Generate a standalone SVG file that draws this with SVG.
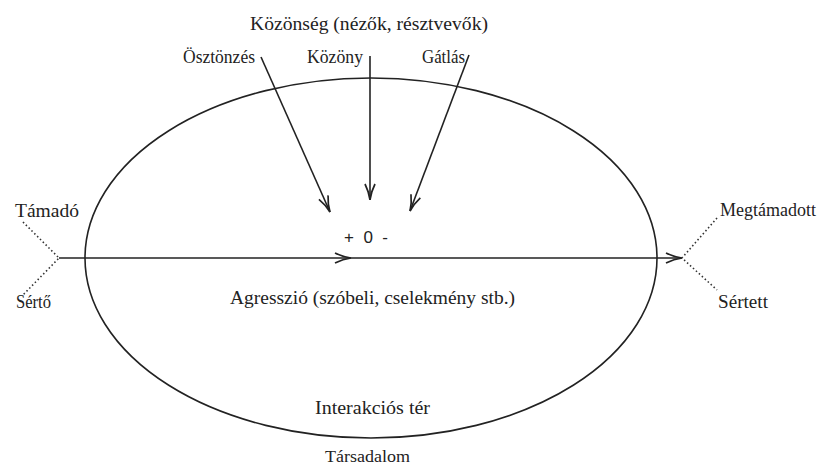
<svg xmlns="http://www.w3.org/2000/svg" width="819" height="468" viewBox="0 0 819 468">
<style>
text{font-family:"Liberation Serif","Times New Roman",serif;font-size:18.5px;fill:#222}
.ln{stroke:#222;stroke-width:1.6;fill:none}
.dot{stroke:#333;stroke-width:1.6;stroke-dasharray:1.5 2.5;fill:none}
.sans{font-family:"Liberation Sans",Arial,sans-serif;font-size:17px}
</style>
<defs>
<marker id="ah" viewBox="0 0 18 12" refX="17" refY="6" markerWidth="18" markerHeight="12" markerUnits="userSpaceOnUse" orient="auto">
<path d="M1,1 Q9,5 17,6 Q9,7 1,11" fill="none" stroke="#222" stroke-width="1.7"/>
</marker>
</defs>
<rect width="819" height="468" fill="#fff"/>
<g id="space">
<ellipse cx="371" cy="258" rx="286" ry="180" class="ln"/>
<text x="315" y="414" textLength="115" lengthAdjust="spacingAndGlyphs">Interakciós tér</text>
</g>
<g id="society"><text x="325" y="462" textLength="85" lengthAdjust="spacingAndGlyphs" style="font-size:17.5px">Társadalom</text></g>
<g id="audience"><text x="250" y="30" textLength="238" lengthAdjust="spacingAndGlyphs" style="font-size:19.5px">Közönség (nézők, résztvevők)</text></g>
<g id="osztonzes"><text x="183" y="63" textLength="72" lengthAdjust="spacingAndGlyphs">Ösztönzés</text></g>
<g id="kozony"><text x="307" y="63" textLength="56" lengthAdjust="spacingAndGlyphs">Közöny</text></g>
<g id="gatlas"><text x="422" y="63" textLength="43" lengthAdjust="spacingAndGlyphs">Gátlás</text></g>
<g id="signs"><text class="sans" x="366" y="243" text-anchor="middle" xml:space="preserve">+  0  -</text></g>
<g id="aggression"><text x="230" y="304" textLength="285" lengthAdjust="spacingAndGlyphs">Agresszió (szóbeli, cselekmény stb.)</text></g>
<g id="attacker">
<text x="15" y="217" textLength="64" lengthAdjust="spacingAndGlyphs">Támadó</text>
<text x="16" y="308" textLength="35" lengthAdjust="spacingAndGlyphs">Sértő</text>
</g>
<g id="victim">
<text x="720" y="216" textLength="96" lengthAdjust="spacingAndGlyphs">Megtámadott</text>
<text x="718" y="308" textLength="50" lengthAdjust="spacingAndGlyphs">Sértett</text>
</g>
<g id="connectors">
<line x1="261" y1="57" x2="330" y2="212" class="ln" marker-end="url(#ah)"/>
<line x1="370" y1="56" x2="370" y2="200" class="ln" marker-end="url(#ah)"/>
<line x1="469" y1="55" x2="410" y2="211" class="ln" marker-end="url(#ah)"/>
<line x1="59" y1="258" x2="351" y2="258" class="ln" marker-end="url(#ah)"/>
<line x1="351" y1="258" x2="682" y2="258" class="ln" marker-end="url(#ah)"/>
<path d="M23,222 L59,258 L23,295" class="dot"/>
<path d="M717,218 L682,258 L717,290" class="dot"/>
</g>
</svg>
